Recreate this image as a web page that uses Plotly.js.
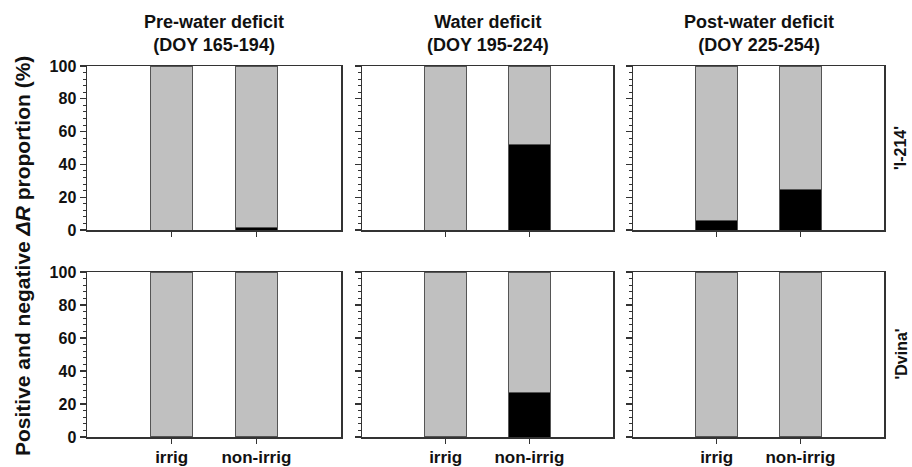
<!DOCTYPE html>
<html>
<head>
<meta charset="utf-8">
<script src="https://cdn.plot.ly/plotly-3.0.1.min.js"></script>
<style>html,body{margin:0;padding:0;background:#fff;}#chart{width:912px;height:467px;}</style>
</head>
<body>
<div id="chart"></div>
<script>
// ---- data ----
const categories = ["irrig", "non-irrig"];
const periods = ["Pre-water deficit<br>(DOY 165-194)", "Water deficit<br>(DOY 195-224)", "Post-water deficit<br>(DOY 225-254)"];
const cultivars = ["'I-214'", "'Dvina'"];
// negative ΔR proportion (%) per period, [irrig, non-irrig]
const negI214 = [[0, 1.5], [0, 52], [5.5, 25]];
const posI214 = [[100, 98.5], [100, 48], [94.5, 75]];
const negDvina = [[0.5, 0.5], [0.5, 27], [0.5, 0.5]];
const posDvina = [[99.5, 99.5], [99.5, 73], [99.5, 99.5]];

// ---- layout geometry ----
const W = 912, H = 467;
const xDom = [[87, 341], [362, 613], [633, 884]];
const yDom = [[66, 230], [272, 437]]; // top row, bottom row (pixels from top)
const FONT = "Liberation Sans, Arial, Helvetica, sans-serif";
const axisCol = "#333";

const traces = [];
const layout = {
  width: W, height: H,
  margin: {l: 0, r: 0, t: 0, b: 0},
  paper_bgcolor: "#fff", plot_bgcolor: "#fff",
  showlegend: false,
  barmode: "stack",
  bargap: 0.5,
  font: {family: FONT, color: "#111"},
  annotations: []
};

const rows = [[negI214, posI214], [negDvina, posDvina]];
let n = 0;
for (let r = 0; r < 2; r++) {
  for (let c = 0; c < 3; c++) {
    n++;
    const xa = n === 1 ? "x" : "x" + n;
    const ya = n === 1 ? "y" : "y" + n;
    const xk = n === 1 ? "xaxis" : "xaxis" + n;
    const yk = n === 1 ? "yaxis" : "yaxis" + n;
    const mn = n + 6; // overlay axis for minor ticks
    traces.push({
      type: "bar", x: categories, y: rows[r][0][c], xaxis: xa, yaxis: ya,
      width: 0.5,
      marker: {color: "#000", line: {color: "#555", width: 1}},
      hoverinfo: "none"
    });
    traces.push({
      type: "bar", x: categories, y: rows[r][1][c], xaxis: xa, yaxis: ya,
      width: 0.5,
      marker: {color: "#c0c0c0", line: {color: "#555", width: 1}},
      hoverinfo: "none"
    });
    traces.push({
      type: "scatter", mode: "markers", x: [categories[0]], y: [-50], xaxis: xa, yaxis: "y" + mn,
      marker: {opacity: 0}, hoverinfo: "none", cliponaxis: true
    });
    layout[xk] = {
      domain: [xDom[c][0] / W, xDom[c][1] / W],
      anchor: ya,
      type: "category",
      range: [-1, 2],
      showline: true, linecolor: axisCol, linewidth: 1.5, mirror: true,
      ticks: "outside", ticklen: 5, tickwidth: 1.2, tickcolor: axisCol,
      showticklabels: r === 1,
      tickfont: {family: FONT, size: 17, color: "#111", weight: "bold"},
      ticklabelstandoff: -1,
      showgrid: false, zeroline: false, fixedrange: true
    };
    layout[yk] = {
      domain: [(H - yDom[r][1]) / H, (H - yDom[r][0]) / H],
      anchor: xa,
      range: [0, 100],
      tickmode: "linear", tick0: 0, dtick: 20,
      showline: true, linecolor: axisCol, linewidth: 1.5, mirror: true,
      ticks: "outside", ticklen: 6, tickwidth: 1.2, tickcolor: axisCol,
      showticklabels: c === 0,
      tickfont: {family: FONT, size: 16, color: "#111", weight: "bold"},
      showgrid: false, zeroline: false, fixedrange: true
    };
    layout["yaxis" + mn] = {
      overlaying: ya, anchor: xa, side: "left",
      range: [0, 100],
      tickmode: "linear", tick0: 0, dtick: 4,
      showline: false,
      ticks: "outside", ticklen: 3, tickwidth: 1, tickcolor: axisCol,
      showticklabels: false,
      showgrid: false, zeroline: false, fixedrange: true
    };
  }
}

// column titles
for (let c = 0; c < 3; c++) {
  layout.annotations.push({
    text: "<b>" + periods[c].replace("<br>", "</b><br><b>") + "</b>",
    xref: "paper", yref: "paper",
    x: (xDom[c][0] + xDom[c][1]) / 2 / W, y: (H - 10) / H,
    xanchor: "center", yanchor: "top", showarrow: false,
    font: {family: FONT, size: 18, color: "#111"}
  });
}
// row labels (cultivars)
for (let r = 0; r < 2; r++) {
  layout.annotations.push({
    text: "<b>" + cultivars[r] + "</b>",
    xref: "paper", yref: "paper",
    x: 901 / W, y: (H - (yDom[r][0] + yDom[r][1]) / 2) / H,
    xanchor: "center", yanchor: "middle", textangle: -90, showarrow: false,
    font: {family: FONT, size: 16, color: "#111"}
  });
}
// shared y title
layout.annotations.push({
  text: "<b>Positive and negative <i>ΔR</i> proportion (%)</b>",
  xref: "paper", yref: "paper",
  x: 23 / W, y: (H - 256) / H,
  xanchor: "center", yanchor: "middle", textangle: -90, showarrow: false,
  font: {family: FONT, size: 21, color: "#111"}
});

Plotly.newPlot("chart", traces, layout, {staticPlot: true, displayModeBar: false});
</script>
</body>
</html>
